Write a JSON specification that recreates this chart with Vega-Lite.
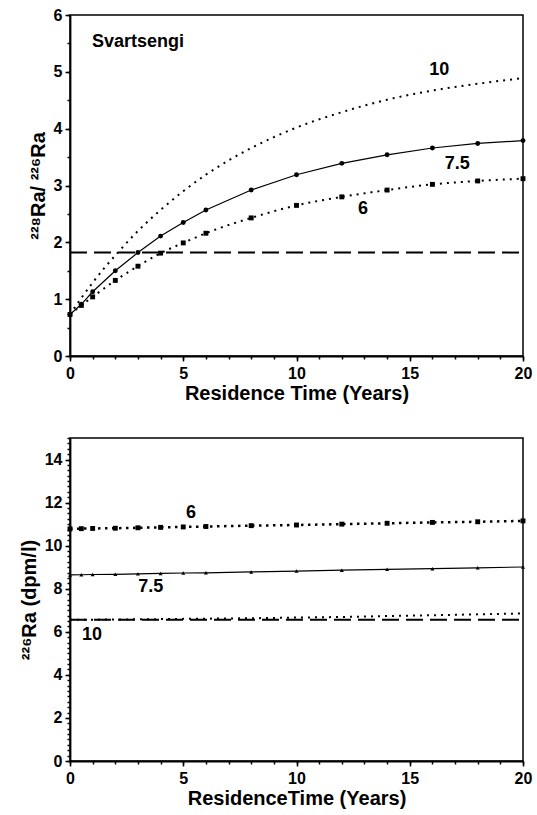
{
  "$schema": "https://vega.github.io/schema/vega-lite/v6.json",
  "padding": {"left": 18, "top": 6, "right": 5, "bottom": 0},
  "spacing": 32,
  "config": {
    "font": "Liberation Sans",
    "view": {"stroke": "black", "strokeWidth": 1.5},
    "axis": {
      "domainColor": "black", "domainWidth": 1.8,
      "tickColor": "black", "tickWidth": 1.5,
      "labelFont": "Liberation Sans", "labelFontSize": 16, "labelFontWeight": "bold", "labelColor": "black",
      "labelFlush": false, "labelOverlap": false,
      "titleFont": "Liberation Sans", "titleFontSize": 20, "titleFontWeight": "bold", "titleColor": "black",
      "grid": false
    }
  },
  "datasets": {
    "t10": [{"t":0,"v":0.73},{"t":0.5,"v":1.02},{"t":1,"v":1.29},{"t":1.5,"v":1.54},{"t":2,"v":1.77},{"t":3,"v":2.2},{"t":4,"v":2.57},{"t":5,"v":2.9},{"t":6,"v":3.19},{"t":7,"v":3.44},{"t":8,"v":3.66},{"t":9,"v":3.85},{"t":10,"v":4.02},{"t":12,"v":4.29},{"t":14,"v":4.51},{"t":16,"v":4.67},{"t":18,"v":4.79},{"t":20,"v":4.89}],
    "t75": [{"t":0,"v":0.73},{"t":0.5,"v":0.91},{"t":1,"v":1.13},{"t":2,"v":1.5},{"t":3,"v":1.82},{"t":4,"v":2.11},{"t":5,"v":2.35},{"t":6,"v":2.57},{"t":8,"v":2.92},{"t":10,"v":3.19},{"t":12,"v":3.39},{"t":14,"v":3.54},{"t":16,"v":3.66},{"t":18,"v":3.74},{"t":20,"v":3.79}],
    "t6": [{"t":0,"v":0.73},{"t":0.5,"v":0.89},{"t":1,"v":1.04},{"t":2,"v":1.33},{"t":3,"v":1.58},{"t":4,"v":1.81},{"t":5,"v":1.99},{"t":6,"v":2.16},{"t":8,"v":2.43},{"t":10,"v":2.65},{"t":12,"v":2.8},{"t":14,"v":2.92},{"t":16,"v":3.02},{"t":18,"v":3.08},{"t":20,"v":3.12}],
    "tdash": [{"t":0,"v":1.82},{"t":20,"v":1.82}],
    "tlab": [{"t":16.3,"v":5.03,"label":"10"},{"t":17.1,"v":3.37,"label":"7.5"},{"t":12.94,"v":2.58,"label":"6"}],
    "tsite": [{"t":0.97,"v":5.53,"label":"Svartsengi"}],
    "b6": [{"t":0,"v":10.78},{"t":0.5,"v":10.79},{"t":1,"v":10.8},{"t":2,"v":10.81},{"t":3,"v":10.83},{"t":4,"v":10.85},{"t":5,"v":10.87},{"t":6,"v":10.89},{"t":8,"v":10.93},{"t":10,"v":10.96},{"t":12,"v":11.0},{"t":14,"v":11.04},{"t":16,"v":11.08},{"t":18,"v":11.11},{"t":20,"v":11.15}],
    "b75": [{"t":0,"v":8.64},{"t":0.5,"v":8.65},{"t":1,"v":8.66},{"t":2,"v":8.67},{"t":3,"v":8.69},{"t":4,"v":8.71},{"t":5,"v":8.73},{"t":6,"v":8.74},{"t":8,"v":8.78},{"t":10,"v":8.82},{"t":12,"v":8.86},{"t":14,"v":8.9},{"t":16,"v":8.93},{"t":18,"v":8.97},{"t":20,"v":9.01}],
    "b10": [{"t":0,"v":6.56},{"t":2,"v":6.57},{"t":4,"v":6.59},{"t":6,"v":6.61},{"t":8,"v":6.63},{"t":10,"v":6.66},{"t":12,"v":6.69},{"t":14,"v":6.73},{"t":16,"v":6.77},{"t":18,"v":6.81},{"t":20,"v":6.85}],
    "bdash": [{"t":0,"v":6.56},{"t":20,"v":6.56}],
    "blab": [{"t":5.34,"v":11.51,"label":"6"},{"t":3.57,"v":8.1,"label":"7.5"},{"t":0.97,"v":5.86,"label":"10"}]
  },
  "vconcat": [
    {
      "width": 453,
      "height": 341,
      "layer": [
        {
          "encoding": {
            "x": {"field": "t", "type": "quantitative", "scale": {"domain": [0, 20], "nice": false},
                  "axis": {"values": [0, 5, 10, 15, 20], "format": "d", "tickSize": 5, "labelPadding": 4, "title": "Residence Time (Years)", "titlePadding": 2}},
            "y": {"field": "v", "type": "quantitative", "scale": {"domain": [0, 6], "nice": false},
                  "axis": {"values": [0, 1, 2, 3, 4, 5, 6], "format": "d", "tickSize": 5, "labelPadding": 3, "title": "²²⁸Ra/ ²²⁶Ra", "titlePadding": 5}}
          },
          "layer": [
            {"data": {"name": "tdash"}, "mark": {"type": "line", "color": "black", "strokeWidth": 2, "strokeDash": [17, 7]}, "encoding": {}},
            {"data": {"name": "t10"}, "mark": {"type": "line", "color": "black", "strokeWidth": 2, "strokeDash": [2, 5], "interpolate": "monotone"}, "encoding": {}},
            {"data": {"name": "t75"}, "mark": {"type": "line", "color": "black", "strokeWidth": 1.2}, "encoding": {}},
            {"data": {"name": "t75"}, "mark": {"type": "point", "shape": "circle", "filled": true, "color": "black", "size": 24, "opacity": 1}, "encoding": {}},
            {"data": {"name": "t6"}, "mark": {"type": "line", "color": "black", "strokeWidth": 2, "strokeDash": [2, 5], "interpolate": "monotone"}, "encoding": {}},
            {"data": {"name": "t6"}, "mark": {"type": "point", "shape": "square", "filled": true, "color": "black", "size": 24, "opacity": 1}, "encoding": {}},
            {"data": {"name": "tlab"}, "mark": {"type": "text", "color": "black", "fontSize": 18, "fontWeight": "bold", "align": "center", "baseline": "middle"}, "encoding": {"text": {"field": "label"}}},
            {"data": {"name": "tsite"}, "mark": {"type": "text", "color": "black", "fontSize": 18, "fontWeight": "bold", "align": "left", "baseline": "middle"}, "encoding": {"text": {"field": "label"}}}
          ]
        },
        {
          "data": {"name": "t10"},
          "mark": {"type": "point", "opacity": 0},
          "encoding": {
            "x": {"field": "t", "type": "quantitative", "scale": {"domain": [0, 20], "nice": false},
                  "axis": {"orient": "bottom", "values": [0,1,2,3,4,5,6,7,8,9,10,11,12,13,14,15,16,17,18,19,20], "labels": false, "domain": false, "tickSize": 3, "title": null}},
            "y": {"field": "v", "type": "quantitative", "scale": {"domain": [0, 6], "nice": false},
                  "axis": {"orient": "left", "values": [0,0.5,1,1.5,2,2.5,3,3.5,4,4.5,5,5.5,6], "labels": false, "domain": false, "tickSize": 3, "title": null}}
          }
        }
      ],
      "resolve": {"axis": {"x": "independent", "y": "independent"}}
    },
    {
      "width": 453,
      "height": 323,
      "layer": [
        {
          "encoding": {
            "x": {"field": "t", "type": "quantitative", "scale": {"domain": [0, 20], "nice": false},
                  "axis": {"values": [0, 5, 10, 15, 20], "format": "d", "tickSize": 5, "labelPadding": 4, "title": "ResidenceTime (Years)", "titlePadding": 2}},
            "y": {"field": "v", "type": "quantitative", "scale": {"domain": [0, 15], "nice": false},
                  "axis": {"values": [0, 2, 4, 6, 8, 10, 12, 14], "format": "d", "tickSize": 5, "labelPadding": 3, "title": "²²⁶Ra (dpm/l)", "titlePadding": 5}}
          },
          "layer": [
            {"data": {"name": "bdash"}, "mark": {"type": "line", "color": "black", "strokeWidth": 2, "strokeDash": [17, 7]}, "encoding": {}},
            {"data": {"name": "b10"}, "mark": {"type": "line", "color": "black", "strokeWidth": 2, "strokeDash": [2, 5], "interpolate": "monotone"}, "encoding": {}},
            {"data": {"name": "b75"}, "mark": {"type": "line", "color": "black", "strokeWidth": 1.2}, "encoding": {}},
            {"data": {"name": "b75"}, "mark": {"type": "point", "shape": "triangle-up", "filled": true, "color": "black", "size": 16, "opacity": 1}, "encoding": {}},
            {"data": {"name": "b6"}, "mark": {"type": "line", "color": "black", "strokeWidth": 2.5, "strokeDash": [2.5, 4.5]}, "encoding": {}},
            {"data": {"name": "b6"}, "mark": {"type": "point", "shape": "square", "filled": true, "color": "black", "size": 24, "opacity": 1}, "encoding": {}},
            {"data": {"name": "blab"}, "mark": {"type": "text", "color": "black", "fontSize": 18, "fontWeight": "bold", "align": "center", "baseline": "middle"}, "encoding": {"text": {"field": "label"}}}
          ]
        },
        {
          "data": {"name": "b10"},
          "mark": {"type": "point", "opacity": 0},
          "encoding": {
            "x": {"field": "t", "type": "quantitative", "scale": {"domain": [0, 20], "nice": false},
                  "axis": {"orient": "bottom", "values": [0,1,2,3,4,5,6,7,8,9,10,11,12,13,14,15,16,17,18,19,20], "labels": false, "domain": false, "tickSize": 3, "title": null}},
            "y": {"field": "v", "type": "quantitative", "scale": {"domain": [0, 15], "nice": false},
                  "axis": {"orient": "left", "values": [0,0.25,0.5,0.75,1,1.25,1.5,1.75,2,2.25,2.5,2.75,3,3.25,3.5,3.75,4,4.25,4.5,4.75,5,5.25,5.5,5.75,6,6.25,6.5,6.75,7,7.25,7.5,7.75,8,8.25,8.5,8.75,9,9.25,9.5,9.75,10,10.25,10.5,10.75,11,11.25,11.5,11.75,12,12.25,12.5,12.75,13,13.25,13.5,13.75,14,14.25,14.5,14.75,15], "labels": false, "domain": false, "tickSize": 3, "title": null}}
          }
        }
      ],
      "resolve": {"axis": {"x": "independent", "y": "independent"}}
    }
  ]
}
